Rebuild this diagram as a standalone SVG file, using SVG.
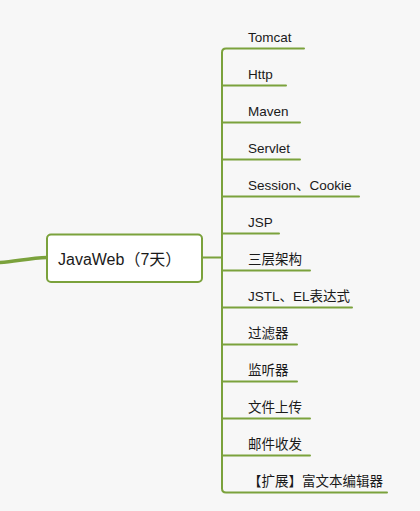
<svg xmlns="http://www.w3.org/2000/svg" width="420" height="511" viewBox="0 0 420 511">
<style>
.ln{fill:none;stroke:#7ba23c;stroke-width:2;stroke-linecap:round}
.t{font-family:"Liberation Sans","Noto Sans CJK SC",sans-serif;font-size:13.5px;fill:#1a1a1a}
.c{font-family:"Liberation Sans","Noto Sans CJK SC",sans-serif;font-size:16px;fill:#1a1a1a}
</style>
<rect width="420" height="511" fill="#f7f7f7"/>
<g id="connectors">
<path class="ln" style="stroke-width:3.5" d="M-2 262.7 C15 261.5 30 258 47 257.5"/>
<path class="ln" d="M202 257.5 H222"/>
<path class="ln" d="M304 48.5 H226 Q222 48.5 222 52.5 V488.5 Q222 492.5 226 492.5 H387"/>
<path class="ln" d="M222 85.5 H286"/>
<path class="ln" d="M222 122.5 H300"/>
<path class="ln" d="M222 159.5 H300"/>
<path class="ln" d="M222 196.5 H359"/>
<path class="ln" d="M222 233.5 H279"/>
<path class="ln" d="M222 270.5 H310"/>
<path class="ln" d="M222 307.5 H352"/>
<path class="ln" d="M222 344.5 H297"/>
<path class="ln" d="M222 381.5 H297"/>
<path class="ln" d="M222 418.5 H310"/>
<path class="ln" d="M222 455.5 H310"/>
</g>
<g id="center">
<rect x="47" y="234.5" width="155" height="47.5" rx="4" fill="#ffffff" stroke="#7ba23c" stroke-width="2"/>
<text class="c" x="58" y="265">JavaWeb（7天）</text>
</g>
<g id="n1"><text class="t" x="248" y="42">Tomcat</text></g>
<g id="n2"><text class="t" x="248" y="79">Http</text></g>
<g id="n3"><text class="t" x="248" y="116">Maven</text></g>
<g id="n4"><text class="t" x="248" y="153">Servlet</text></g>
<g id="n5"><text class="t" x="248" y="190">Session、Cookie</text></g>
<g id="n6"><text class="t" x="248" y="227">JSP</text></g>
<g id="n7"><text class="t" x="248" y="264">三层架构</text></g>
<g id="n8"><text class="t" x="248" y="301">JSTL、EL表达式</text></g>
<g id="n9"><text class="t" x="248" y="338">过滤器</text></g>
<g id="n10"><text class="t" x="248" y="375">监听器</text></g>
<g id="n11"><text class="t" x="248" y="412">文件上传</text></g>
<g id="n12"><text class="t" x="248" y="449">邮件收发</text></g>
<g id="n13"><text class="t" x="248" y="486">【扩展】富文本编辑器</text></g>
</svg>
